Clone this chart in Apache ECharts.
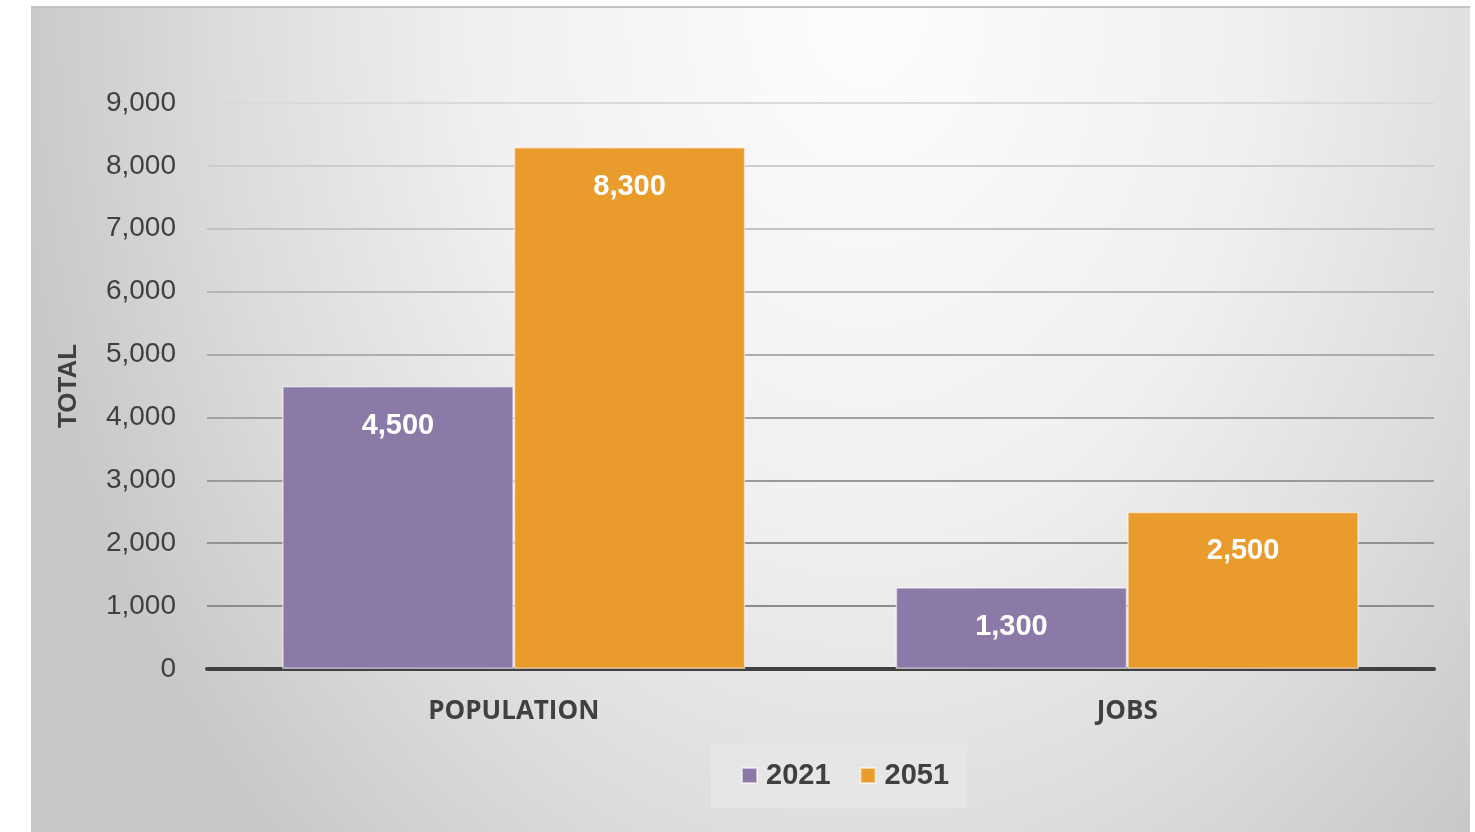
<!DOCTYPE html>
<html>
<head>
<meta charset="utf-8">
<script src="https://cdn.jsdelivr.net/npm/echarts@6/dist/echarts.min.js"></script>
<style>
html,body{margin:0;padding:0;background:#ffffff;}
#bg{position:absolute;left:31px;top:6px;width:1439px;height:826px;
  border-top:2px solid #c4c4c4;box-sizing:border-box;
  background:radial-gradient(ellipse 860px 1150px at 58% 0%, #fdfdfd 0%, #f0f0f0 45%, #dcdcdc 75%, #c8c8c8 100%);}
#chart{position:absolute;left:0;top:0;width:1475px;height:832px;}
</style>
</head>
<body>
<div id="bg"></div>
<div id="chart"></div>
<script>
const categories = ['POPULATION', 'JOBS'];
const seriesNames = ['2021', '2051'];
const values2021 = [4500, 1300];
const values2051 = [8300, 2500];
const yTicks = [0, 1000, 2000, 3000, 4000, 5000, 6000, 7000, 8000, 9000];

const fmt = v => Number(v).toLocaleString('en-US');
const chart = echarts.init(document.getElementById('chart'), null, {renderer: 'canvas'});

const labelCfg = {
  show: true,
  position: 'insideTop',
  distance: 25,
  color: '#ffffff',
  fontFamily: 'Liberation Sans',
  fontWeight: 'bold',
  fontSize: 29,
  formatter: p => fmt(p.value)
};

chart.setOption({
  backgroundColor: 'transparent',
  animation: false,
  grid: {left: 207, right: 41, top: 103, bottom: 163, containLabel: false},
  legend: {
    data: seriesNames,
    left: 711,
    top: 743,
    padding: [18, 18, 18, 30],
    backgroundColor: '#e6e6e6',
    itemWidth: 15,
    itemHeight: 15,
    itemGap: 29,
    icon: 'rect',
    textStyle: {color: '#404040', fontFamily: 'Liberation Sans', fontWeight: 'bold', fontSize: 29, padding: [0, 0, 0, 4]}
  },
  xAxis: {
    type: 'category',
    data: categories,
    axisLine: {show: true, lineStyle: {color: '#404040', width: 4}},
    axisTick: {show: false},
    axisLabel: {color: '#404040', fontFamily: 'Open Sans', fontWeight: 'bold', fontSize: 26, margin: 30}
  },
  yAxis: {
    type: 'value',
    min: yTicks[0],
    max: yTicks[yTicks.length - 1],
    interval: 1000,
    name: 'TOTAL',
    nameLocation: 'middle',
    nameGap: 125,
    nameRotate: 90,
    nameTextStyle: {color: '#404040', fontFamily: 'Liberation Sans', fontWeight: 'bold', fontSize: 26},
    axisLine: {show: false},
    axisTick: {show: false},
    axisLabel: {color: '#404040', fontFamily: 'Liberation Sans', fontSize: 28, margin: 31, formatter: v => fmt(v)},
    splitLine: {show: true, lineStyle: {width: 2, color: ['#404040', '#8c8c8c', '#929292', '#9a9a9a', '#a2a2a2', '#acacac', '#b6b6b6', '#c2c2c2', '#cdcdcd', '#dadada']}}
  },
  series: [
    {
      name: seriesNames[0],
      type: 'bar',
      data: values2021,
      barGap: '0%',
      barCategoryGap: '24.5%',
      itemStyle: {color: '#8b7aa8', borderColor: 'rgba(255,255,255,0.55)', borderWidth: 1.5},
      label: labelCfg
    },
    {
      name: seriesNames[1],
      type: 'bar',
      data: values2051,
      barGap: '0%',
      barCategoryGap: '24.5%',
      itemStyle: {color: '#e99c2b', borderColor: 'rgba(255,255,255,0.55)', borderWidth: 1.5},
      label: labelCfg
    }
  ]
});
</script>
</body>
</html>
